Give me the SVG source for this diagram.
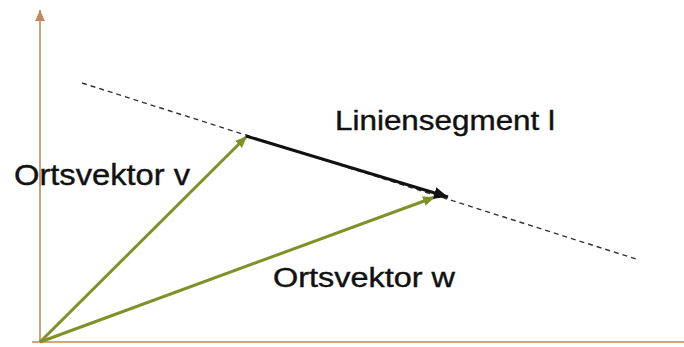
<svg xmlns="http://www.w3.org/2000/svg" width="684" height="347" viewBox="0 0 684 347">
<style>
.lbl{font-family:"Liberation Sans",Arial,sans-serif;fill:#111;stroke:#111;stroke-width:0.4;}
.axis{stroke:#c08a5e;stroke-width:1.6;fill:none;}
.vec{stroke:#7f9129;stroke-width:3;fill:none;}
.seg{stroke:#111;stroke-width:3;fill:none;}
.dash{stroke:#333;stroke-width:1.4;stroke-dasharray:5,4;fill:none;}
</style>
<defs>
<marker id="ah-axis" markerUnits="userSpaceOnUse" markerWidth="12" markerHeight="14" refX="11" refY="5" orient="auto"><path d="M0,0 L11,5 L0,10 Z" fill="#c08a5e"/></marker>
<marker id="ah-vec" markerUnits="userSpaceOnUse" markerWidth="14" markerHeight="12" refX="12" refY="5" orient="auto"><path d="M0,0 L12,5 L0,10 Z" fill="#7f9129"/></marker>
<marker id="ah-seg" markerUnits="userSpaceOnUse" markerWidth="16" markerHeight="14" refX="14" refY="6" orient="auto"><path d="M0,0 L14,6 L0,12 Z" fill="#111"/></marker>
</defs>
<rect width="684" height="347" fill="#fff"/>
<g id="connectors">
<line class="dash" x1="82" y1="83" x2="636" y2="259"/>
<line id="axis-y" class="axis" x1="40" y1="342" x2="40" y2="10" marker-end="url(#ah-axis)"/>
<line id="axis-x" class="axis" x1="32" y1="342" x2="684" y2="342"/>
<line id="vec-v" class="vec" x1="40" y1="342" x2="247" y2="136" marker-end="url(#ah-vec)"/>
<line id="vec-w" class="vec" x1="40" y1="342" x2="435" y2="197" marker-end="url(#ah-vec)"/>
<line id="segment" class="seg" x1="246" y1="136" x2="448" y2="197" marker-end="url(#ah-seg)"/>
</g>
<g id="label-v"><text class="lbl" x="14" y="185" font-size="29" textLength="176" lengthAdjust="spacingAndGlyphs">Ortsvektor v</text></g>
<g id="label-l"><text class="lbl" x="335" y="130" font-size="27" textLength="220" lengthAdjust="spacingAndGlyphs">Liniensegment l</text></g>
<g id="label-w"><text class="lbl" x="273" y="287" font-size="27" textLength="182" lengthAdjust="spacingAndGlyphs">Ortsvektor w</text></g>
</svg>
